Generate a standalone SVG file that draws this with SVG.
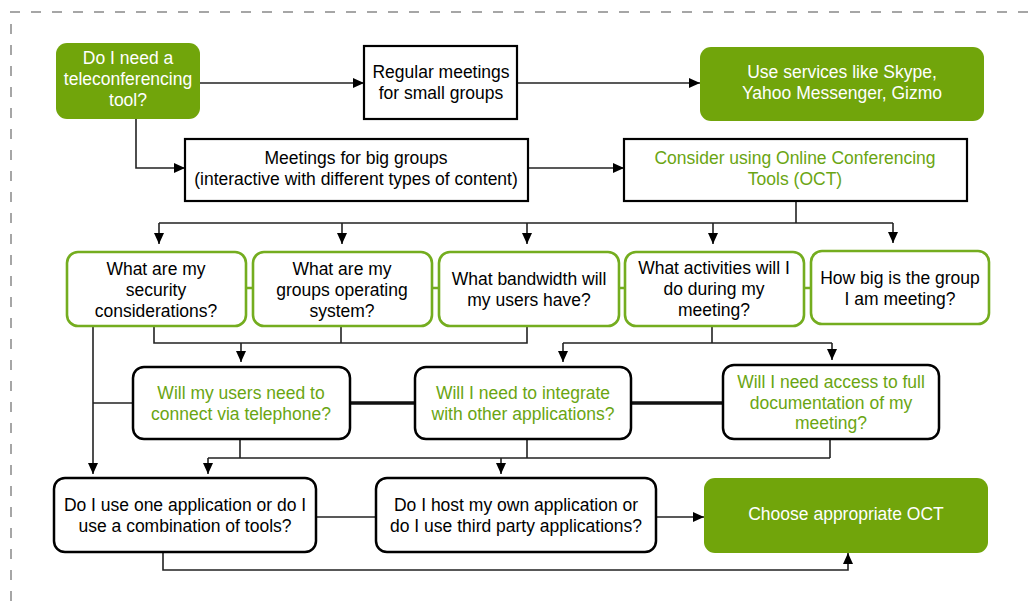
<svg xmlns="http://www.w3.org/2000/svg" width="1030" height="601" viewBox="0 0 1030 601">
<style>
text{font-family:"Liberation Sans",Arial,sans-serif;font-size:17.5px;text-anchor:middle;fill:#000}
.w{fill:#fff}
.g{fill:#6aa512}
.gf{fill:#71a50b;stroke:none}
.bx{fill:#fff;stroke:#000;stroke-width:2.5}
.sq{fill:#fff;stroke:#000;stroke-width:2.2}
.go{fill:#fff;stroke:#74ad1f;stroke-width:2.6}
.c{fill:none;stroke:#222;stroke-width:1.6}
.t{fill:none;stroke:#111;stroke-width:3.5}
.gs{fill:none;stroke:#74ad1f;stroke-width:2.6}
.a{marker-end:url(#ah)}
</style>
<defs>
<marker id="ah" markerWidth="11" markerHeight="10" refX="11" refY="5" orient="auto" markerUnits="userSpaceOnUse"><path d="M0,0 L11,5 L0,10 z" fill="#000"/></marker>
</defs>
<path d="M11,601 V12 H1030" fill="none" stroke="#a6a6a6" stroke-width="2" stroke-dasharray="10 11"/>
<g id="connectors">
<path class="c a" d="M200,83 H364"/>
<path class="c a" d="M517,83 H700"/>
<path class="c a" d="M136,119 V168 H185"/>
<path class="c a" d="M528,168 H624"/>
<path class="c" d="M796,201 V223 M159,223 H893"/>
<path class="c a" d="M159,223 V244"/>
<path class="c a" d="M342,223 V244"/>
<path class="c a" d="M527,223 V244"/>
<path class="c a" d="M713,223 V244"/>
<path class="c a" d="M893,223 V243"/>
<path class="gs" d="M246,288 H253 M432,288 H439 M619,288 H625 M804,288 H811"/>
<path class="c" d="M154,326 V343 H527 V326 M341,326 V343"/>
<path class="c a" d="M241,343 V362"/>
<path class="c" d="M712,326 V343 M563,343 H832"/>
<path class="c a" d="M563,343 V362"/>
<path class="c a" d="M832,343 V360"/>
<path class="c a" d="M93,326 V474"/>
<path class="c" d="M93,403 H133"/>
<path class="t" d="M350,403 H415 M631,403 H723"/>
<path class="c" d="M240,439 V458 M527,439 V458 M830,439 V458 M208,458 H830"/>
<path class="c a" d="M208,458 V474"/>
<path class="c a" d="M501,458 V474"/>
<path class="c" d="M316,517 H376"/>
<path class="c a" d="M656,517 H704"/>
<path class="c a" d="M163,552 V570 H848 V553"/>
</g>
<g id="n1"><rect class="gf" x="56" y="43" width="144" height="76" rx="11"/><text class="w" x="128" y="64">Do I need a</text><text class="w" x="128" y="85">teleconferencing</text><text class="w" x="128" y="106">tool?</text></g>
<g id="n2"><rect class="sq" x="364" y="46" width="153" height="73"/><text x="441" y="78">Regular meetings</text><text x="441" y="99">for small groups</text></g>
<g id="n3"><rect class="gf" x="700" y="47" width="284" height="74" rx="11"/><text class="w" x="842" y="78">Use services like Skype,</text><text class="w" x="842" y="99">Yahoo Messenger, Gizmo</text></g>
<g id="n4"><rect class="sq" x="185" y="139" width="343" height="62"/><text x="356" y="164">Meetings for big groups</text><text x="356" y="185">(interactive with different types of content)</text></g>
<g id="n5"><rect class="sq" x="624" y="139" width="343" height="62" stroke-width="3"/><text class="g" x="795" y="164">Consider using Online Conferencing</text><text class="g" x="795" y="185">Tools (OCT)</text></g>
<g id="n6"><rect class="go" x="67" y="252" width="179" height="74" rx="11"/><text x="156" y="275">What are my</text><text x="156" y="296">security</text><text x="156" y="317">considerations?</text></g>
<g id="n7"><rect class="go" x="253" y="252" width="179" height="74" rx="11"/><text x="342" y="275">What are my</text><text x="342" y="296">groups operating</text><text x="342" y="317">system?</text></g>
<g id="n8"><rect class="go" x="439" y="252" width="180" height="74" rx="11"/><text x="529" y="285">What bandwidth will</text><text x="529" y="306">my users have?</text></g>
<g id="n9"><rect class="go" x="625" y="252" width="179" height="74" rx="11"/><text x="714" y="274">What activities will I</text><text x="714" y="295">do during my</text><text x="714" y="316">meeting?</text></g>
<g id="n10"><rect class="go" x="811" y="251" width="178" height="73" rx="11"/><text x="900" y="284">How big is the group</text><text x="900" y="305">I am meeting?</text></g>
<g id="n11"><rect class="bx" x="133" y="367" width="217" height="72" rx="11"/><text class="g" x="241" y="399">Will my users need to</text><text class="g" x="241" y="420">connect via telephone?</text></g>
<g id="n12"><rect class="bx" x="415" y="367" width="216" height="72" rx="11"/><text class="g" x="523" y="399">Will I need to integrate</text><text class="g" x="523" y="420">with other applications?</text></g>
<g id="n13"><rect class="bx" x="723" y="365" width="216" height="74" rx="11"/><text class="g" x="831" y="388">Will I need access to full</text><text class="g" x="831" y="409">documentation of my</text><text class="g" x="831" y="429">meeting?</text></g>
<g id="n14"><rect class="bx" x="54" y="478" width="262" height="74" rx="11"/><text x="185" y="511">Do I use one application or do I</text><text x="185" y="532">use a combination of tools?</text></g>
<g id="n15"><rect class="bx" x="376" y="478" width="280" height="74" rx="11"/><text x="516" y="511">Do I host my own application or</text><text x="516" y="532">do I use third party applications?</text></g>
<g id="n16"><rect class="gf" x="704" y="478" width="284" height="75" rx="11"/><text class="w" x="846" y="520">Choose appropriate OCT</text></g>
</svg>
